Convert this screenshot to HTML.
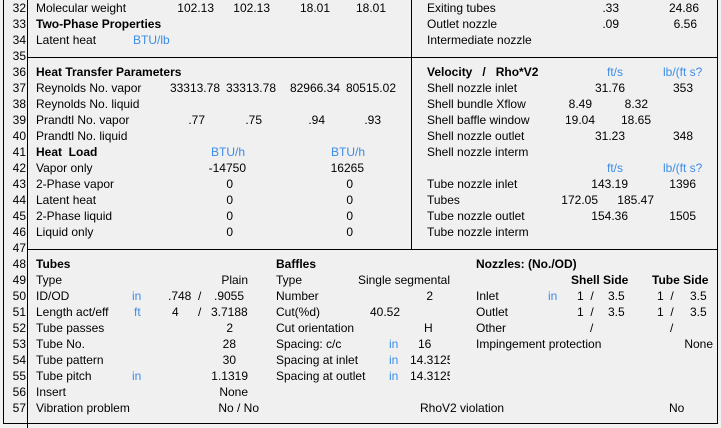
<!DOCTYPE html>
<html><head><meta charset="utf-8"><style>
html,body{margin:0;padding:0;}
body{width:721px;height:428px;background:#f0f0f0;position:relative;overflow:hidden;font-family:"Liberation Sans",sans-serif;font-size:12px;color:#000;}
.t{position:absolute;line-height:16px;white-space:nowrap;}
.r{transform:translateX(-100%);}
.b{font-weight:bold;}
.u{color:#3c8ce6;}
.l{position:absolute;background:#000;}
</style></head><body>
<!-- lines -->
<div class="l" style="left:3px;top:0;width:1px;height:424px"></div>
<div class="l" style="left:27px;top:0;width:1px;height:428px"></div>
<div class="l" style="left:411px;top:0;width:1px;height:249px"></div>
<div class="l" style="left:717px;top:0;width:1px;height:424px"></div>
<div class="l" style="left:27px;top:57px;width:690px;height:1px"></div>
<div class="l" style="left:27px;top:249px;width:690px;height:1px"></div>
<div class="l" style="left:3px;top:423px;width:715px;height:1px"></div>

<!-- row numbers -->
<div class="t r" style="left:26px;top:0">32</div>
<div class="t r" style="left:26px;top:16px">33</div>
<div class="t r" style="left:26px;top:32px">34</div>
<div class="t r" style="left:26px;top:48px">35</div>
<div class="t r" style="left:26px;top:64px">36</div>
<div class="t r" style="left:26px;top:80px">37</div>
<div class="t r" style="left:26px;top:96px">38</div>
<div class="t r" style="left:26px;top:112px">39</div>
<div class="t r" style="left:26px;top:128px">40</div>
<div class="t r" style="left:26px;top:144px">41</div>
<div class="t r" style="left:26px;top:160px">42</div>
<div class="t r" style="left:26px;top:176px">43</div>
<div class="t r" style="left:26px;top:192px">44</div>
<div class="t r" style="left:26px;top:208px">45</div>
<div class="t r" style="left:26px;top:224px">46</div>
<div class="t r" style="left:26px;top:240px">47</div>
<div class="t r" style="left:26px;top:256px">48</div>
<div class="t r" style="left:26px;top:272px">49</div>
<div class="t r" style="left:26px;top:288px">50</div>
<div class="t r" style="left:26px;top:304px">51</div>
<div class="t r" style="left:26px;top:320px">52</div>
<div class="t r" style="left:26px;top:336px">53</div>
<div class="t r" style="left:26px;top:352px">54</div>
<div class="t r" style="left:26px;top:368px">55</div>
<div class="t r" style="left:26px;top:384px">56</div>
<div class="t r" style="left:26px;top:400px">57</div>

<!-- top left -->
<div class="t" style="left:36px;top:0">Molecular weight</div>
<div class="t r" style="left:214px;top:0">102.13</div>
<div class="t r" style="left:270px;top:0">102.13</div>
<div class="t r" style="left:330px;top:0">18.01</div>
<div class="t r" style="left:386px;top:0">18.01</div>
<div class="t b" style="left:36px;top:16px">Two-Phase Properties</div>
<div class="t" style="left:36px;top:32px">Latent heat</div>
<div class="t u" style="left:133px;top:32px">BTU/lb</div>
<div class="t b" style="left:36px;top:64px">Heat Transfer Parameters</div>
<div class="t" style="left:36px;top:80px">Reynolds No. vapor</div>
<div class="t r" style="left:220px;top:80px">33313.78</div>
<div class="t r" style="left:276px;top:80px">33313.78</div>
<div class="t r" style="left:340px;top:80px">82966.34</div>
<div class="t r" style="left:396px;top:80px">80515.02</div>
<div class="t" style="left:36px;top:96px">Reynolds No. liquid</div>
<div class="t" style="left:36px;top:112px">Prandtl No. vapor</div>
<div class="t r" style="left:205px;top:112px">.77</div>
<div class="t r" style="left:262px;top:112px">.75</div>
<div class="t r" style="left:325px;top:112px">.94</div>
<div class="t r" style="left:381px;top:112px">.93</div>
<div class="t" style="left:36px;top:128px">Prandtl No. liquid</div>
<div class="t b" style="left:36px;top:144px">Heat&nbsp; Load</div>
<div class="t u" style="left:211px;top:144px">BTU/h</div>
<div class="t u" style="left:331px;top:144px">BTU/h</div>
<div class="t" style="left:36px;top:160px">Vapor only</div>
<div class="t r" style="left:246px;top:160px">-14750</div>
<div class="t r" style="left:364px;top:160px">16265</div>
<div class="t" style="left:36px;top:176px">2-Phase vapor</div>
<div class="t r" style="left:233px;top:176px">0</div>
<div class="t r" style="left:353px;top:176px">0</div>
<div class="t" style="left:36px;top:192px">Latent heat</div>
<div class="t r" style="left:233px;top:192px">0</div>
<div class="t r" style="left:353px;top:192px">0</div>
<div class="t" style="left:36px;top:208px">2-Phase liquid</div>
<div class="t r" style="left:233px;top:208px">0</div>
<div class="t r" style="left:353px;top:208px">0</div>
<div class="t" style="left:36px;top:224px">Liquid only</div>
<div class="t r" style="left:233px;top:224px">0</div>
<div class="t r" style="left:353px;top:224px">0</div>

<!-- top right -->
<div class="t" style="left:427px;top:0">Exiting tubes</div>
<div class="t r" style="left:619px;top:0">.33</div>
<div class="t r" style="left:699px;top:0">24.86</div>
<div class="t" style="left:427px;top:16px">Outlet nozzle</div>
<div class="t r" style="left:619px;top:16px">.09</div>
<div class="t r" style="left:697px;top:16px">6.56</div>
<div class="t" style="left:427px;top:32px">Intermediate nozzle</div>
<div class="t b" style="left:427px;top:64px">Velocity&nbsp;&nbsp; /&nbsp;&nbsp; Rho*V2</div>
<div class="t u" style="left:607px;top:64px">ft/s</div>
<div class="t u" style="left:663px;top:64px">lb/(ft s?</div>
<div class="t" style="left:427px;top:80px">Shell nozzle inlet</div>
<div class="t r" style="left:625px;top:80px">31.76</div>
<div class="t r" style="left:693px;top:80px">353</div>
<div class="t" style="left:427px;top:96px">Shell bundle Xflow</div>
<div class="t r" style="left:592px;top:96px">8.49</div>
<div class="t r" style="left:648px;top:96px">8.32</div>
<div class="t" style="left:427px;top:112px">Shell baffle window</div>
<div class="t r" style="left:595px;top:112px">19.04</div>
<div class="t r" style="left:651px;top:112px">18.65</div>
<div class="t" style="left:427px;top:128px">Shell nozzle outlet</div>
<div class="t r" style="left:625px;top:128px">31.23</div>
<div class="t r" style="left:693px;top:128px">348</div>
<div class="t" style="left:427px;top:144px">Shell nozzle interm</div>
<div class="t u" style="left:607px;top:160px">ft/s</div>
<div class="t u" style="left:663px;top:160px">lb/(ft s?</div>
<div class="t" style="left:427px;top:176px">Tube nozzle inlet</div>
<div class="t r" style="left:628px;top:176px">143.19</div>
<div class="t r" style="left:696px;top:176px">1396</div>
<div class="t" style="left:427px;top:192px">Tubes</div>
<div class="t r" style="left:598px;top:192px">172.05</div>
<div class="t r" style="left:654px;top:192px">185.47</div>
<div class="t" style="left:427px;top:208px">Tube nozzle outlet</div>
<div class="t r" style="left:628px;top:208px">154.36</div>
<div class="t r" style="left:696px;top:208px">1505</div>
<div class="t" style="left:427px;top:224px">Tube nozzle interm</div>

<!-- bottom: tubes -->
<div class="t b" style="left:36px;top:256px">Tubes</div>
<div class="t" style="left:36px;top:272px">Type</div>
<div class="t r" style="left:248px;top:272px">Plain</div>
<div class="t" style="left:36px;top:288px">ID/OD</div>
<div class="t u" style="left:132px;top:288px">in</div>
<div class="t" style="left:168px;top:288px">.748</div>
<div class="t" style="left:198px;top:288px">/</div>
<div class="t" style="left:214px;top:288px">.9055</div>
<div class="t" style="left:36px;top:304px">Length act/eff</div>
<div class="t u" style="left:134px;top:304px">ft</div>
<div class="t" style="left:172px;top:304px">4</div>
<div class="t" style="left:198px;top:304px">/</div>
<div class="t" style="left:211px;top:304px">3.7188</div>
<div class="t" style="left:36px;top:320px">Tube passes</div>
<div class="t r" style="left:233px;top:320px">2</div>
<div class="t" style="left:36px;top:336px">Tube No.</div>
<div class="t r" style="left:236px;top:336px">28</div>
<div class="t" style="left:36px;top:352px">Tube pattern</div>
<div class="t r" style="left:236px;top:352px">30</div>
<div class="t" style="left:36px;top:368px">Tube pitch</div>
<div class="t u" style="left:132px;top:368px">in</div>
<div class="t r" style="left:248px;top:368px">1.1319</div>
<div class="t" style="left:36px;top:384px">Insert</div>
<div class="t r" style="left:248px;top:384px">None</div>
<div class="t" style="left:36px;top:400px">Vibration problem</div>
<div class="t r" style="left:259px;top:400px">No / No</div>

<!-- baffles -->
<div class="t b" style="left:276px;top:256px">Baffles</div>
<div class="t" style="left:276px;top:272px">Type</div>
<div class="t r" style="left:450px;top:272px">Single segmental</div>
<div class="t" style="left:276px;top:288px">Number</div>
<div class="t r" style="left:433px;top:288px">2</div>
<div class="t" style="left:276px;top:304px">Cut(%d)</div>
<div class="t" style="left:370px;top:304px">40.52</div>
<div class="t" style="left:276px;top:320px">Cut orientation</div>
<div class="t" style="left:424px;top:320px">H</div>
<div class="t" style="left:276px;top:336px">Spacing: c/c</div>
<div class="t u" style="left:389px;top:336px">in</div>
<div class="t" style="left:418px;top:336px">16</div>
<div class="t" style="left:276px;top:352px">Spacing at inlet</div>
<div class="t u" style="left:389px;top:352px">in</div>
<div class="t" style="left:410px;top:352px;width:40px;overflow:hidden">14.3125</div>
<div class="t" style="left:276px;top:368px">Spacing at outlet</div>
<div class="t u" style="left:389px;top:368px">in</div>
<div class="t" style="left:410px;top:368px;width:40px;overflow:hidden">14.3125</div>
<div class="t" style="left:420px;top:400px">RhoV2 violation</div>
<div class="t" style="left:669px;top:400px">No</div>

<!-- nozzles -->
<div class="t b" style="left:476px;top:256px">Nozzles: (No./OD)</div>
<div class="t b" style="left:571px;top:272px">Shell Side</div>
<div class="t b" style="left:652px;top:272px">Tube Side</div>
<div class="t" style="left:476px;top:288px">Inlet</div>
<div class="t u" style="left:548px;top:288px">in</div>
<div class="t" style="left:577px;top:288px">1&nbsp; /</div>
<div class="t" style="left:608px;top:288px">3.5</div>
<div class="t" style="left:657px;top:288px">1&nbsp; /</div>
<div class="t" style="left:690px;top:288px">3.5</div>
<div class="t" style="left:476px;top:304px">Outlet</div>
<div class="t" style="left:577px;top:304px">1&nbsp; /</div>
<div class="t" style="left:608px;top:304px">3.5</div>
<div class="t" style="left:657px;top:304px">1&nbsp; /</div>
<div class="t" style="left:690px;top:304px">3.5</div>
<div class="t" style="left:476px;top:320px">Other</div>
<div class="t" style="left:590px;top:320px">/</div>
<div class="t" style="left:670px;top:320px">/</div>
<div class="t" style="left:476px;top:336px">Impingement protection</div>
<div class="t r" style="left:713px;top:336px">None</div>
</body></html>
